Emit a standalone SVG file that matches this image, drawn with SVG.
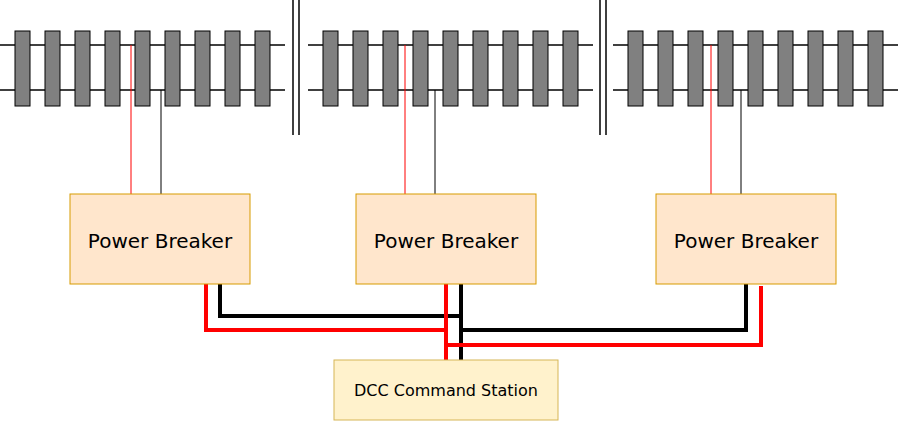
<svg xmlns="http://www.w3.org/2000/svg" width="899" height="422" viewBox="0 0 899 422">
<style>
.rail{stroke:#000;stroke-width:1.5}
.tie{fill:#808080;stroke:#000;stroke-width:1}
.div{stroke:#000;stroke-width:1.5}
.pb{fill:#ffe6cc;stroke:#d79b00;stroke-width:1}
.cs{fill:#fff2cc;stroke:#d6b656;stroke-width:1}
.t{font-family:Tahoma,"DejaVu Sans",sans-serif;text-anchor:middle;fill:#000}
.r{stroke:#ff0000;fill:none}
.b{stroke:#000;fill:none}
</style>
<defs>
<g id="track">
<line class="rail" x1="0" y1="45" x2="285" y2="45"/>
<line class="rail" x1="0" y1="90" x2="285" y2="90"/>
<rect class="tie" x="15" y="31" width="15" height="75"/>
<rect class="tie" x="45" y="31" width="15" height="75"/>
<rect class="tie" x="75" y="31" width="15" height="75"/>
<rect class="tie" x="105" y="31" width="15" height="75"/>
<rect class="tie" x="135" y="31" width="15" height="75"/>
<rect class="tie" x="165" y="31" width="15" height="75"/>
<rect class="tie" x="195" y="31" width="15" height="75"/>
<rect class="tie" x="225" y="31" width="15" height="75"/>
<rect class="tie" x="255" y="31" width="15" height="75"/>
</g>
</defs>
<g id="tracks">
<use href="#track" x="0"/>
<use href="#track" x="308"/>
<use href="#track" x="613"/>
<line class="div" x1="293" y1="0" x2="293" y2="135"/>
<line class="div" x1="299" y1="0" x2="299" y2="135"/>
<line class="div" x1="600" y1="0" x2="600" y2="135"/>
<line class="div" x1="606" y1="0" x2="606" y2="135"/>
</g>
<g id="connectors">
<line class="r" stroke-width="1" x1="131" y1="45" x2="131" y2="194"/>
<line class="b" stroke-width="1" x1="161" y1="90" x2="161" y2="194"/>
<line class="r" stroke-width="1" x1="405" y1="45" x2="405" y2="194"/>
<line class="b" stroke-width="1" x1="435" y1="90" x2="435" y2="194"/>
<line class="r" stroke-width="1" x1="711" y1="45" x2="711" y2="194"/>
<line class="b" stroke-width="1" x1="741" y1="90" x2="741" y2="194"/>
<polyline class="b" stroke-width="4" points="220,284 220,316 461,316"/>
<polyline class="b" stroke-width="4" points="746,284 746,330 461,330"/>
<line class="b" stroke-width="4" x1="461" y1="284" x2="461" y2="360"/>
<polyline class="r" stroke-width="4" points="206,284 206,330 446,330"/>
<polyline class="r" stroke-width="4" points="761,286 761,345 446,345"/>
<line class="r" stroke-width="4" x1="446" y1="284" x2="446" y2="360"/>
</g>
<g id="pb1"><rect class="pb" x="70" y="194" width="180" height="90"/><text class="t" x="160" y="248" font-size="20">Power Breaker</text></g>
<g id="pb2"><rect class="pb" x="356" y="194" width="180" height="90"/><text class="t" x="446" y="248" font-size="20">Power Breaker</text></g>
<g id="pb3"><rect class="pb" x="656" y="194" width="180" height="90"/><text class="t" x="746" y="248" font-size="20">Power Breaker</text></g>
<g id="dcc"><rect class="cs" x="334" y="360" width="224" height="60"/><text class="t" x="446" y="396" font-size="16">DCC Command Station</text></g>
</svg>
